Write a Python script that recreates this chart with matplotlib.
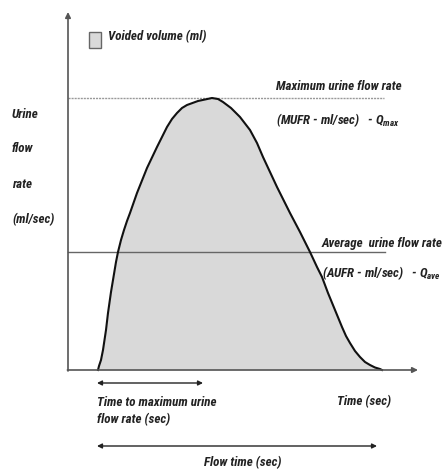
import matplotlib
matplotlib.use("Agg")
import matplotlib.pyplot as plt
from matplotlib.patches import Rectangle

# ---- data (time in s, flow in ml/s) ----
time_s = [3.0, 3.1, 3.3, 3.5, 3.8, 4.0, 4.3, 4.5, 4.8, 5.0, 5.3, 5.6, 5.9, 6.2,
          6.9, 7.9, 8.9, 9.9, 10.4, 10.9, 11.4, 11.9, 13.0, 14.4, 15.0, 15.5,
          16.3, 17.2, 18.2, 18.9, 19.5, 20.2, 20.9, 22.2, 23.2, 24.2, 24.9,
          25.4, 26.0, 26.7, 27.4, 27.8, 28.2, 28.7, 29.2, 29.7, 30.2, 30.7,
          31.2, 31.4]
flow_ml_s = [0.0, 0.4, 1.0, 2.0, 4.0, 5.7, 7.8, 9.0, 10.8, 11.8, 13.0, 14.0,
             14.9, 15.7, 17.7, 20.2, 22.3, 24.3, 25.1, 25.7, 26.2, 26.5, 26.9,
             27.2, 27.1, 26.8, 26.2, 25.3, 24.0, 22.7, 21.3, 19.8, 18.3, 15.7,
             13.8, 11.8, 10.3, 9.3, 7.7, 6.0, 4.3, 3.4, 2.7, 1.9, 1.3, 0.8, 0.5,
             0.25, 0.1, 0.0]
q_max = 27.2
q_ave = 11.8
t_start = 2.9
t_peak = 13.5
t_end = 30.9

FONT = 'Roboto Condensed'
plt.rcParams['font.family'] = [FONT, 'DejaVu Sans']
plt.rcParams['mathtext.fontset'] = 'custom'
plt.rcParams['mathtext.it'] = FONT + ':bold:italic'
plt.rcParams['mathtext.rm'] = FONT + ':bold:italic'
plt.rcParams['mathtext.bf'] = FONT + ':bold:italic'

fig = plt.figure(figsize=(4.42, 4.69), dpi=100)
ax = fig.add_axes([0, 0, 1, 1])
ax.set_xlim(-6.8, 37.4)
ax.set_ylim(-9.9, 37.0)
ax.axis('off')

ax.fill_between(time_s, flow_ml_s, 0, color='#d9d9d9', lw=0, zorder=1)
ax.plot(time_s, flow_ml_s, color='#111111', lw=1.5, zorder=3,
        solid_joinstyle='round')

ax.plot([0, 31.6], [q_max, q_max], color='#999999', lw=1.0, ls=(0, (1.5, 0.7)), zorder=2)
ax.plot([0, 31.7], [q_ave, q_ave], color='#666666', lw=1.0, zorder=2)

axcol = '#555555'
ax.annotate('', xy=(0, 35.8), xytext=(0, -0.1),
            arrowprops=dict(arrowstyle='-|>', color=axcol, lw=1.2, mutation_scale=8,
                            shrinkA=0, shrinkB=0))
ax.annotate('', xy=(35.0, 0), xytext=(-0.06, 0),
            arrowprops=dict(arrowstyle='-|>', color=axcol, lw=1.2, mutation_scale=8,
                            shrinkA=0, shrinkB=0))
ax.annotate('', xy=(t_peak, -1.3), xytext=(t_start, -1.3),
            arrowprops=dict(arrowstyle='<|-|>', color='#222222', lw=1.0, mutation_scale=7,
                            shrinkA=0, shrinkB=0))
ax.annotate('', xy=(t_end, -7.6), xytext=(t_start, -7.6),
            arrowprops=dict(arrowstyle='<|-|>', color='#222222', lw=1.0, mutation_scale=7,
                            shrinkA=0, shrinkB=0))

ax.add_patch(Rectangle((2.1, 32.2), 1.2, 1.6, facecolor='#d9d9d9', edgecolor='#666666', lw=1.0))

tk = dict(fontsize=9.4, fontweight='bold', fontstyle='italic', color='#222222', va='center')
ax.text(4.0, 33.3, 'Voided volume (ml)', **tk)
ax.text(20.8, 28.3, 'Maximum urine flow rate', **tk)
ax.text(20.8, 25.0, '(MUFR - ml/sec)   - $Q_{max}$', **tk)
ax.text(25.4, 12.7, 'Average  urine flow rate', **tk)
ax.text(25.4, 9.7, '(AUFR - ml/sec)   - $Q_{ave}$', **tk)
for lab, q in zip(['Urine', 'flow', 'rate', '(ml/sec)'], [25.5, 22.1, 18.5, 15.0]):
    ax.text(-5.6, q, lab, **tk)
ax.text(2.9, -3.2, 'Time to maximum urine', **tk)
ax.text(2.9, -5.0, 'flow rate (sec)', **tk)
ax.text(26.9, -3.2, 'Time (sec)', **tk)
ax.text(17.5, -9.3, 'Flow time (sec)', ha='center', **tk)

fig.savefig('out.png', dpi=100)
